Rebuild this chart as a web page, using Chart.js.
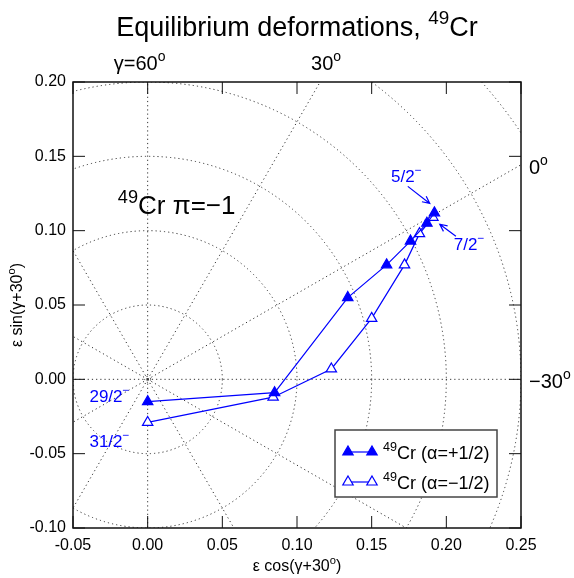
<!DOCTYPE html>
<html lang="en">
<head>
    <meta charset="UTF-8">
    <title>Equilibrium deformations, 49Cr</title>
    <style>
        body {
            margin: 0;
            background-color: #ffffff;
        }
        #wrap {
            width: 574px;
            height: 578px;
        }
    </style>
</head>
<body>
    <div id="wrap">
        <canvas id="deformChart" width="574" height="578"></canvas>
    </div>

    <script src="https://cdn.jsdelivr.net/npm/chart.js"></script>
    <script>
        // data (x = eps cos(gamma+30), y = eps sin(gamma+30))
        const alphaPlusX = [0.000, 0.085, 0.134, 0.160, 0.176, 0.187, 0.192];
        const alphaPlusY = [-0.015, -0.009, 0.055, 0.077, 0.093, 0.105, 0.112];
        const alphaMinusX = [0.000, 0.084, 0.123, 0.150, 0.172, 0.182, 0.191];
        const alphaMinusY = [-0.029, -0.012, 0.007, 0.041, 0.077, 0.098, 0.109];

        const xTicks = [-0.05, 0.00, 0.05, 0.10, 0.15, 0.20, 0.25];
        const yTicks = [-0.10, -0.05, 0.00, 0.05, 0.10, 0.15, 0.20];

        // polar grid: eps circles and gamma spokes
        const epsCircles = [0.05, 0.10, 0.15, 0.20, 0.25, 0.30];
        const spokeAngles = [0, 30, 60, 90, 120, 150, 180, 210, 240, 270, 300, 330];

        const spinLabels = ['5/2', '7/2', '29/2', '31/2'];

        const BLUE = '#0000ff';
        const FONT = '"Liberation Sans", Arial, sans-serif';

        function toPoints(xs, ys) {
            return xs.map((x, i) => ({ x: x, y: ys[i] }));
        }

        // draw text with superscript pieces; parts = [[text, isSup], ...]
        function richText(ctx, parts, x, y, size, align) {
            let total = 0;
            parts.forEach(p => {
                ctx.font = (p[1] ? size * 0.7 : size) + 'px ' + FONT;
                total += ctx.measureText(p[0]).width;
            });
            let cx = x;
            if (align === 'center') cx = x - total / 2;
            if (align === 'right') cx = x - total;
            ctx.textAlign = 'left';
            ctx.textBaseline = 'alphabetic';
            parts.forEach(p => {
                ctx.font = (p[1] ? size * 0.7 : size) + 'px ' + FONT;
                ctx.fillText(p[0], cx, p[1] ? y - size * 0.45 : y);
                cx += ctx.measureText(p[0]).width;
            });
        }

        function drawArrow(ctx, x1, y1, x2, y2) {
            const a = Math.atan2(y2 - y1, x2 - x1);
            const h = 8;
            ctx.beginPath();
            ctx.moveTo(x1, y1);
            ctx.lineTo(x2, y2);
            ctx.moveTo(x2 - h * Math.cos(a - 0.45), y2 - h * Math.sin(a - 0.45));
            ctx.lineTo(x2, y2);
            ctx.lineTo(x2 - h * Math.cos(a + 0.45), y2 - h * Math.sin(a + 0.45));
            ctx.stroke();
        }

        const polarGrid = {
            id: 'polarGrid',
            beforeDatasetsDraw(chart) {
                const ctx = chart.ctx;
                const area = chart.chartArea;
                const xs = chart.scales.x, ys = chart.scales.y;
                const ox = xs.getPixelForValue(0), oy = ys.getPixelForValue(0);
                const kx = xs.getPixelForValue(1) - ox;
                const ky = oy - ys.getPixelForValue(1);
                ctx.save();
                ctx.beginPath();
                ctx.rect(area.left, area.top, area.right - area.left, area.bottom - area.top);
                ctx.clip();
                ctx.strokeStyle = '#333';
                ctx.lineWidth = 1;
                ctx.setLineDash([1.2, 3]);
                epsCircles.forEach(r => {
                    ctx.beginPath();
                    ctx.ellipse(ox, oy, r * kx, r * ky, 0, 0, Math.PI * 2);
                    ctx.stroke();
                });
                ctx.beginPath();
                ctx.arc(ox, oy, 3, 0, Math.PI * 2);
                ctx.stroke();
                spokeAngles.forEach(d => {
                    const t = d * Math.PI / 180;
                    ctx.beginPath();
                    ctx.moveTo(ox, oy);
                    ctx.lineTo(ox + 0.5 * kx * Math.cos(t), oy - 0.5 * ky * Math.sin(t));
                    ctx.stroke();
                });
                ctx.restore();
            },
            afterDraw(chart) {
                const ctx = chart.ctx;
                const area = chart.chartArea;
                const xs = chart.scales.x, ys = chart.scales.y;
                const px = v => xs.getPixelForValue(v);
                const py = v => ys.getPixelForValue(v);
                ctx.save();

                // frame and inward ticks
                ctx.strokeStyle = '#111';
                ctx.lineWidth = 1.5;
                ctx.strokeRect(area.left, area.top, area.right - area.left, area.bottom - area.top);
                ctx.lineWidth = 1;
                const tl = 12;
                ctx.beginPath();
                xTicks.forEach(v => {
                    ctx.moveTo(px(v), area.bottom); ctx.lineTo(px(v), area.bottom - tl);
                    ctx.moveTo(px(v), area.top); ctx.lineTo(px(v), area.top + tl);
                });
                yTicks.forEach(v => {
                    ctx.moveTo(area.left, py(v)); ctx.lineTo(area.left + tl, py(v));
                    ctx.moveTo(area.right, py(v)); ctx.lineTo(area.right - tl, py(v));
                });
                ctx.stroke();

                // titles
                ctx.fillStyle = '#000';
                richText(ctx, [['Equilibrium deformations, ', false], ['49', true], ['Cr', false]], 297, 36, 27, 'center');
                richText(ctx, [['ε cos(γ+30', false], ['o', true], [')', false]], (area.left + area.right) / 2, 571, 16, 'center');
                ctx.save();
                ctx.translate(22, (area.top + area.bottom) / 2);
                ctx.rotate(-Math.PI / 2);
                richText(ctx, [['ε sin(γ+30', false], ['o', true], [')', false]], 0, 0, 16, 'center');
                ctx.restore();

                // gamma labels where spokes leave the frame
                const topY = area.top - 12;
                richText(ctx, [['γ=60', false], ['o', true]], px(0) - 8, topY, 20, 'center');
                richText(ctx, [['30', false], ['o', true]], px(0.2 / Math.tan(Math.PI / 3)) + 6, topY, 20, 'center');
                richText(ctx, [['0', false], ['o', true]], area.right + 8, py(0.25 * Math.tan(Math.PI / 6)) + 9, 20, 'left');
                richText(ctx, [['−30', false], ['o', true]], area.right + 8, py(0) + 9, 20, 'left');

                // nucleus / parity label
                richText(ctx, [['49', true], ['Cr π=−1', false]], px(-0.02), py(0.111), 26, 'left');

                // spin labels and arrows
                ctx.fillStyle = BLUE;
                ctx.strokeStyle = BLUE;
                ctx.lineWidth = 1.2;
                const labelPos = [[0.163, 0.133], [0.205, 0.087], [-0.039, -0.015], [-0.039, -0.0455]];
                spinLabels.forEach((s, i) => {
                    richText(ctx, [[s, false], ['−', true]], px(labelPos[i][0]), py(labelPos[i][1]), 17, 'left');
                });
                drawArrow(ctx, px(0.1742), py(0.1298), px(0.1889), py(0.1183));
                drawArrow(ctx, px(0.2064), py(0.0962), px(0.1956), py(0.1043));

                // legend
                const lx = 335, ly = 430, lw = 162, lh = 67;
                ctx.fillStyle = '#fff';
                ctx.fillRect(lx, ly, lw, lh);
                ctx.strokeStyle = '#444';
                ctx.lineWidth = 1.5;
                ctx.strokeRect(lx, ly, lw, lh);
                chart.data.datasets.forEach((ds, i) => {
                    const yy = ly + 22 + i * 30;
                    ctx.strokeStyle = ds.borderColor;
                    ctx.lineWidth = ds.borderWidth;
                    ctx.beginPath();
                    ctx.moveTo(lx + 13, yy);
                    ctx.lineTo(lx + 37, yy);
                    ctx.stroke();
                    [lx + 13, lx + 37].forEach(mx => {
                        ctx.fillStyle = ds.pointBackgroundColor;
                        ctx.strokeStyle = ds.pointBorderColor;
                        ctx.lineWidth = ds.pointBorderWidth;
                        Chart.helpers.drawPoint(ctx, {
                            pointStyle: 'triangle',
                            radius: ds.pointRadius,
                            borderWidth: ds.pointBorderWidth
                        }, mx, yy);
                    });
                    ctx.fillStyle = '#000';
                    richText(ctx, [['49', true], [ds.label, false]], lx + 48, yy + 7, 18, 'left');
                });
                ctx.restore();
            }
        };

        const ctx = document.getElementById('deformChart').getContext('2d');
        const deformChart = new Chart(ctx, {
            type: 'scatter',
            data: {
                datasets: [
                    {
                        label: 'Cr (α=+1/2)',
                        data: toPoints(alphaPlusX, alphaPlusY),
                        showLine: true,
                        borderColor: BLUE,
                        backgroundColor: BLUE,
                        borderWidth: 1.2,
                        pointStyle: 'triangle',
                        pointRadius: 6,
                        pointBorderWidth: 1.2,
                        pointBackgroundColor: BLUE,
                        pointBorderColor: BLUE
                    },
                    {
                        label: 'Cr (α=−1/2)',
                        data: toPoints(alphaMinusX, alphaMinusY),
                        showLine: true,
                        borderColor: BLUE,
                        backgroundColor: '#fff',
                        borderWidth: 1.2,
                        pointStyle: 'triangle',
                        pointRadius: 6,
                        pointBorderWidth: 1.2,
                        pointBackgroundColor: '#fff',
                        pointBorderColor: BLUE
                    }
                ]
            },
            options: {
                responsive: false,
                animation: false,
                layout: { padding: { top: 82, right: 53, left: 0, bottom: 0 } },
                plugins: {
                    legend: { display: false },
                    tooltip: { enabled: false }
                },
                scales: {
                    x: {
                        type: 'linear',
                        min: -0.05,
                        max: 0.25,
                        afterFit: s => { s.height = 50; },
                        afterBuildTicks: s => { s.ticks = xTicks.map(v => ({ value: v })); },
                        grid: { display: false, drawTicks: false },
                        border: { display: false },
                        ticks: {
                            color: '#000',
                            padding: 8,
                            maxRotation: 0,
                            font: { family: FONT, size: 16 },
                            callback: v => Math.abs(v) < 1e-9 ? '0.00' : v.toFixed(2)
                        }
                    },
                    y: {
                        type: 'linear',
                        min: -0.10,
                        max: 0.20,
                        afterFit: s => { s.width = 73; },
                        afterBuildTicks: s => { s.ticks = yTicks.map(v => ({ value: v })); },
                        grid: { display: false, drawTicks: false },
                        border: { display: false },
                        ticks: {
                            color: '#000',
                            padding: 7,
                            font: { family: FONT, size: 16 },
                            callback: v => Math.abs(v) < 1e-9 ? '0.00' : v.toFixed(2)
                        }
                    }
                }
            },
            plugins: [polarGrid]
        });
    </script>
</body>
</html>
